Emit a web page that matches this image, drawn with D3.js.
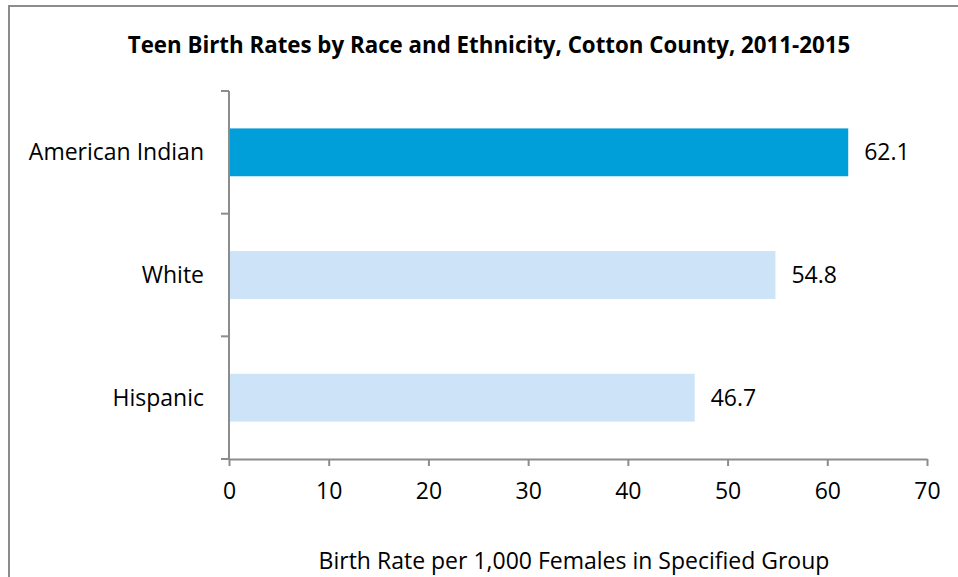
<!DOCTYPE html>
<html>
<head>
<meta charset="utf-8">
<script src="https://cdn.jsdelivr.net/npm/d3@7"></script>
<style>
body { margin: 0; background: #fff; }
svg { display: block; font-family: "Open Sans", "Noto Sans", sans-serif; }
</style>
</head>
<body>
<div id="chart"></div>
<script>
// chart data
var categories = ["American Indian", "White", "Hispanic"];
var rates = [62.1, 54.8, 46.7];
var xTicks = [0, 10, 20, 30, 40, 50, 60, 70];

var width = 958, height = 577;
var plot = {l: 229, r: 927, t: 91, b: 459};

var svg = d3.select("#chart").append("svg")
    .attr("width", width)
    .attr("height", height);

// outer frame (right and bottom run off the picture)
svg.append("rect")
    .attr("x", 9).attr("y", 6)
    .attr("width", 960).attr("height", 600)
    .attr("fill", "none")
    .attr("stroke", "#8c8c8c")
    .attr("stroke-width", 2);

svg.append("text")
    .attr("x", 489).attr("y", 53)
    .attr("text-anchor", "middle")
    .attr("font-weight", "bold")
    .attr("font-size", "22.3px")
    .attr("fill", "#000")
    .text("Teen Birth Rates by Race and Ethnicity, Cotton County, 2011-2015");

var x = d3.scaleLinear().domain([0, 70]).range([plot.l, plot.r]);
var y = d3.scaleBand().domain(categories).range([plot.t, plot.b]).paddingInner(0.61).paddingOuter(0.305);
var yb = d3.scaleBand().domain(categories).range([plot.t, plot.b]);

var data = categories.map(function (c, i) { return {cat: c, value: rates[i]}; });

svg.selectAll(".bar")
    .data(data)
    .enter().append("rect")
    .attr("class", "bar")
    .attr("x", x(0))
    .attr("y", function (d) { return y(d.cat); })
    .attr("width", function (d) { return x(d.value) - x(0); })
    .attr("height", y.bandwidth())
    .attr("fill", function (d, i) { return i === 0 ? "#009fd9" : "#cce3f8"; });

svg.selectAll(".val")
    .data(data)
    .enter().append("text")
    .attr("class", "val")
    .attr("x", function (d) { return x(d.value) + 16; })
    .attr("y", function (d) { return y(d.cat) + y.bandwidth() / 2; })
    .attr("dy", "0.35em")
    .attr("font-size", "23px")
    .attr("fill", "#000")
    .text(function (d) { return d.value.toFixed(1); });

// y axis: line with ticks at band edges
var yAxis = svg.append("g");
yAxis.append("line")
    .attr("x1", plot.l).attr("x2", plot.l)
    .attr("y1", plot.t).attr("y2", plot.b)
    .attr("stroke", "#8c8c8c").attr("stroke-width", 2);
var edges = categories.map(function (c) { return yb(c); }).concat([plot.b]);
yAxis.selectAll(".ytick")
    .data(edges)
    .enter().append("line")
    .attr("x1", plot.l - 8).attr("x2", plot.l)
    .attr("y1", function (d) { return d; }).attr("y2", function (d) { return d; })
    .attr("stroke", "#8c8c8c").attr("stroke-width", 2);
yAxis.selectAll(".ylab")
    .data(categories)
    .enter().append("text")
    .attr("x", 204)
    .attr("y", function (d) { return y(d) + y.bandwidth() / 2; })
    .attr("dy", "0.35em")
    .attr("text-anchor", "end")
    .attr("font-size", "23px")
    .attr("fill", "#000")
    .text(function (d) { return d; });

// x axis
var xAxis = svg.append("g")
    .attr("transform", "translate(0," + plot.b + ")")
    .call(d3.axisBottom(x).tickValues(xTicks).tickSize(7).tickSizeOuter(0).tickPadding(17));
xAxis.select(".domain").attr("stroke", "#8c8c8c").attr("stroke-width", 2);
xAxis.selectAll(".tick line").attr("stroke", "#8c8c8c").attr("stroke-width", 2);
xAxis.selectAll(".tick text")
    .attr("font-size", "23px")
    .attr("font-family", "\"Open Sans\", \"Noto Sans\", sans-serif")
    .attr("fill", "#000");

svg.append("text")
    .attr("x", 574).attr("y", 569)
    .attr("text-anchor", "middle")
    .attr("font-size", "23px")
    .attr("fill", "#000")
    .text("Birth Rate per 1,000 Females in Specified Group");
</script>
</body>
</html>
